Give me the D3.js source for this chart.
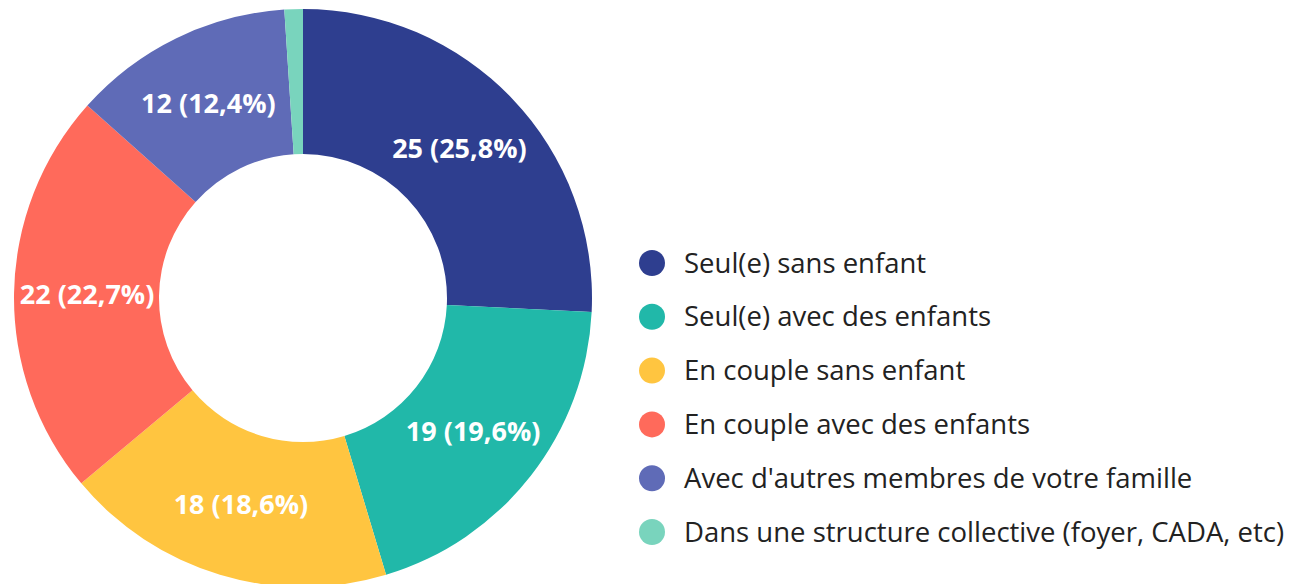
<!DOCTYPE html>
<html>
<head>
<meta charset="utf-8">
<script src="https://cdn.jsdelivr.net/npm/d3@7"></script>
<style>
  html, body { margin: 0; padding: 0; background: #fff; }
  svg { display: block; }
</style>
</head>
<body>
<svg id="chart" width="1291" height="584"></svg>
<script>
const categories = [
  "Seul(e) sans enfant",
  "Seul(e) avec des enfants",
  "En couple sans enfant",
  "En couple avec des enfants",
  "Avec d'autres membres de votre famille",
  "Dans une structure collective (foyer, CADA, etc)"
];
const counts = [25, 19, 18, 22, 12, 1];
const colors = ["#2e3e8f", "#21b8a9", "#ffc540", "#ff6a5b", "#5f6bb7", "#79d4bd"];

const svg = d3.select("#chart");
const cx = 303, cy = 298;
const outerR = 289, innerR = 144;

const total = d3.sum(counts);
const rows = categories.map((c, i) => ({ name: c, value: counts[i], color: colors[i] }));

const pie = d3.pie().value(d => d.value).sort(null);
const arc = d3.arc().innerRadius(innerR).outerRadius(outerR);
const labelArc = d3.arc().innerRadius(216).outerRadius(216);

const g = svg.append("g").attr("transform", `translate(${cx},${cy})`);
const arcs = pie(rows);

g.selectAll("path")
  .data(arcs)
  .join("path")
  .attr("d", arc)
  .attr("fill", d => d.data.color);

// labels only for big enough slices
const fmt = v => (v / total * 100).toFixed(1).replace(".", ",");
g.selectAll("text")
  .data(arcs.filter(d => d.data.value >= 5))
  .join("text")
  .attr("transform", d => `translate(${labelArc.centroid(d)})`)
  .attr("text-anchor", "middle")
  .attr("dy", "0.35em")
  .attr("fill", "#fff")
  .attr("font-family", "'Open Sans', sans-serif")
  .attr("font-weight", "bold")
  .attr("font-size", 27)
  .text(d => `${d.data.value} (${fmt(d.data.value)}%)`);

// legend
const legend = svg.append("g").attr("transform", "translate(652,263)");
const ly = d3.scalePoint().domain(categories).range([0, 269]);
const item = legend.selectAll("g")
  .data(rows)
  .join("g")
  .attr("transform", d => `translate(0,${ly(d.name)})`);
item.append("circle").attr("r", 13).attr("fill", d => d.color);
item.append("text")
  .attr("x", 32)
  .attr("dy", "0.35em")
  .attr("fill", "#222")
  .attr("font-family", "'Open Sans', sans-serif")
  .attr("font-size", 27.5)
  .text(d => d.name);
</script>
</body>
</html>
